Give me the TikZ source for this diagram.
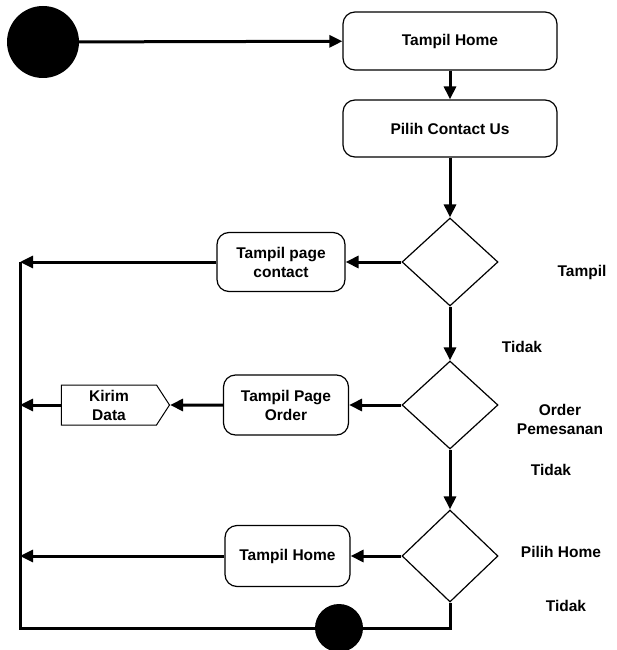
\documentclass[tikz,border=0pt]{standalone}
\usepackage{fontspec}
\setmainfont{Liberation Sans}
\usetikzlibrary{arrows.meta, positioning, shapes.geometric, shapes.symbols}

\tikzset{
  act/.style={draw, rounded corners=12pt, line width=1.2pt, align=center, inner sep=0pt},
  decide/.style={draw, diamond, line width=1.2pt, minimum width=96pt, minimum height=88pt, inner sep=0pt},
  flow/.style={line width=3pt, -{Triangle[length=13pt,width=12pt]}},
  wire/.style={line width=3pt},
  dot/.style={circle, fill, inner sep=0pt}
}

\begin{document}
\begin{tikzpicture}[x=1pt, y=-1pt, every node/.style={font=\fontsize{15.5}{19}\selectfont\bfseries}]
	\useasboundingbox (0,0) rectangle (617,650);
	\coordinate (rail) at (20,0);
	% start and first steps
	\node[dot, minimum size=72pt] (start) at (43,42) {};
	\node[act, minimum width=214pt, minimum height=58pt] (home) at (450,41) {Tampil Home};
	\node[act, minimum width=214pt, minimum height=57pt] (contact) at (450,128.5) {Pilih Contact Us};
	% decisions
	\node[decide] (d1) at (450,262) {};
	\node[decide] (d2) at (450,405) {};
	\node[decide, minimum height=92pt] (d3) at (450,556) {};
	% branches
	\node[act, minimum width=128pt, minimum height=59pt] (pagecontact) at (281,262) {Tampil page\\contact};
	\node[act, minimum width=125pt, minimum height=60pt] (pageorder) at (286,405) {Tampil Page\\Order};
	\node[draw, signal, signal to=east, signal pointer angle=114, minimum width=108pt, minimum height=40pt, line width=1pt, align=center, inner sep=0pt] (kirim) at (109,405) {Kirim\\Data};
	\node[act, minimum width=125pt, minimum height=61pt] (home2) at (287.5,556) {Tampil Home};
	\node[dot, minimum size=48pt] (stop) at (339,628) {};
	% labels
	\node (ltampil) at (582,272) {Tampil};
	\node (ltidak1) at (522,347) {Tidak};
	\node[align=center] (lorder) at (560,419) {Order\\Pemesanan};
	\node (ltidak2) at (551,470) {Tidak};
	\node (lpilih) at (561,552) {Pilih Home};
	\node (ltidak3) at (566,606) {Tidak};
	% connectors
	\draw[flow] (start) -- (home);
	\draw[flow] (home) -- (contact);
	\draw[flow] (contact) -- (d1);
	\draw[flow] (d1) -- (pagecontact);
	\draw[flow] (d1) -- (d2);
	\draw[flow] (d2) -- (pageorder);
	\draw[flow] (pageorder) -- (kirim);
	\draw[flow] (d2) -- (d3);
	\draw[flow] (d3) -- (home2);
	\draw[flow] (pagecontact.west) -- (pagecontact.west -| rail);
	\draw[flow] (kirim.west) -- (kirim.west -| rail);
	\draw[flow] (home2.west) -- (home2.west -| rail);
	\draw[wire] (d3.south) -- (d3.south |- stop) -- (stop);
	\draw[wire] (stop) -- (stop -| rail) -- (pagecontact.west -| rail);
\end{tikzpicture}
\end{document}
